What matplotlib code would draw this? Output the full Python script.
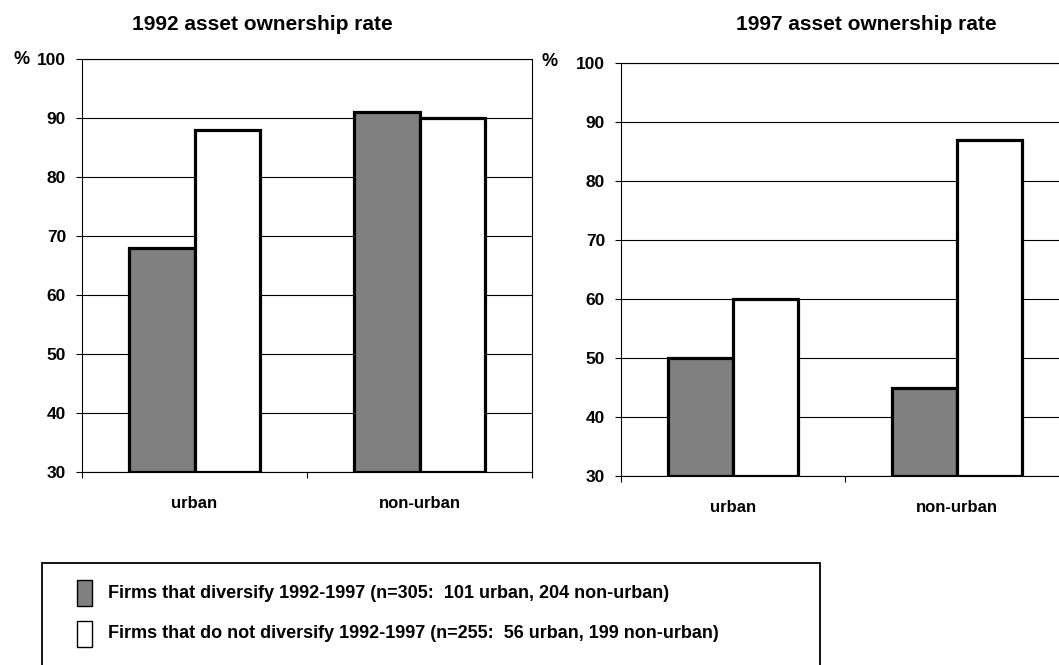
import matplotlib
matplotlib.use("Agg")
import matplotlib.pyplot as plt
from matplotlib.patches import Rectangle

plt.rcParams['font.family'] = ['Liberation Sans', 'DejaVu Sans']
plt.rcParams['font.weight'] = 'bold'

categories = ["urban", "non-urban"]
titles = ["1992 asset ownership rate", "1997 asset ownership rate"]
diversify_1992 = [68, 91]
not_diversify_1992 = [88, 90]
diversify_1997 = [50, 45]
not_diversify_1997 = [60, 87]
yticks = [30, 40, 50, 60, 70, 80, 90, 100]
legend_labels = ["Firms that diversify 1992-1997 (n=305:  101 urban, 204 non-urban)",
                 "Firms that do not diversify 1992-1997 (n=255:  56 urban, 199 non-urban)"]

W, H = 1059, 665
fig = plt.figure(figsize=(W / 100, H / 100), dpi=100)

def px_axes(x0, x1, ytop, ybot):
    return [x0 / W, (H - ybot) / H, (x1 - x0) / W, (ybot - ytop) / H]

GRAY = "#808080"
bw = 0.289
axes_specs = [
    (px_axes(82, 532, 59, 472), diversify_1992, not_diversify_1992),
    (px_axes(621, 1069, 63, 476), diversify_1997, not_diversify_1997),
]
axs = []
for pos, s1, s2 in axes_specs:
    ax = fig.add_axes(pos)
    x = list(range(len(categories)))
    ax.bar([i - bw / 2 for i in x], [v - 30 for v in s1], bottom=30, width=bw,
           color=GRAY, edgecolor="black", linewidth=2.3, zorder=3)
    ax.bar([i + bw / 2 for i in x], [v - 30 for v in s2], bottom=30, width=bw,
           color="white", edgecolor="black", linewidth=2.3, zorder=3)
    ax.set_xlim(-0.5, len(categories) - 0.5)
    ax.set_ylim(30, 100)
    ax.set_yticks(yticks)
    ax.set_yticklabels([str(t) for t in yticks], fontsize=12.5, fontweight='bold')
    ax.set_xticks([-0.5 + i for i in range(len(categories) + 1)])
    ax.set_xticklabels([])
    ax.set_xticks(x, minor=True)
    ax.set_xticklabels(categories, minor=True, fontsize=12, fontweight='bold')
    ax.tick_params(axis='x', which='major', direction='out', length=4.5, width=0.8)
    ax.tick_params(axis='x', which='minor', length=0, pad=17)
    ax.tick_params(axis='y', direction='out', length=4.5, width=0.8, pad=7)
    ax.yaxis.grid(True, color="black", linewidth=0.8, zorder=0)
    ax.set_axisbelow(True)
    for sp in ax.spines.values():
        sp.set_linewidth(0.8)
    axs.append(ax)

# titles
fig.text(262 / W, 1 - 24 / H, titles[0], ha='center', va='center', fontsize=15, fontweight='bold')
fig.text(866 / W, 1 - 24 / H, titles[1], ha='center', va='center', fontsize=15, fontweight='bold')
# percent labels
fig.text(14 / W, 1 - 60 / H, "%", ha='left', va='center', fontsize=13, fontweight='bold')
fig.text(542 / W, 1 - 61 / H, "%", ha='left', va='center', fontsize=13, fontweight='bold')

# legend box
fig.patches.append(Rectangle((42 / W, (H - 720) / H), (820 - 42) / W, (720 - 563) / H,
                             transform=fig.transFigure, facecolor='white', edgecolor='black',
                             linewidth=1.3, clip_on=False))
colors = [GRAY, "white"]
ycent = [593, 634]
for lab, col, yc in zip(legend_labels, colors, ycent):
    fig.patches.append(Rectangle((77 / W, (H - yc - 13) / H), 15 / W, 26 / H,
                                 transform=fig.transFigure, facecolor=col, edgecolor='black',
                                 linewidth=1.0))
    fig.text(108 / W, 1 - yc / H, lab, ha='left', va='center', fontsize=13, fontweight='bold')

fig.savefig("out.png", dpi=100)
